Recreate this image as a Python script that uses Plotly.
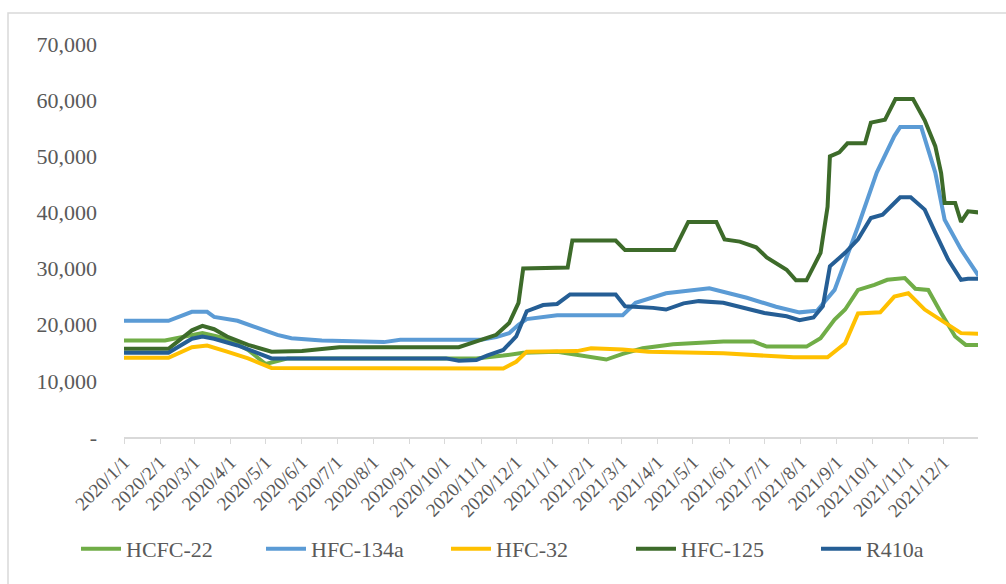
import plotly.graph_objects as go

# ---------------- data ----------------
hcfc22_dates = ["2020-01-01", "2020-02-05", "2020-03-08", "2020-03-29", "2020-04-16", "2020-05-01",
                "2020-05-20", "2020-10-28", "2020-11-20", "2020-12-07", "2021-01-05", "2021-01-22",
                "2021-02-16", "2021-03-02", "2021-03-19", "2021-04-14", "2021-05-27", "2021-06-22",
                "2021-07-03", "2021-08-06", "2021-08-18", "2021-08-30", "2021-09-08", "2021-09-19",
                "2021-10-03", "2021-10-14", "2021-10-29", "2021-11-07", "2021-11-18", "2021-11-29",
                "2021-12-11", "2021-12-20", "2021-12-31"]
hcfc22_values = [17200, 17200, 18500, 17500, 15500, 13000,
                 14000, 14000, 14500, 15000, 15200, 14600,
                 13800, 14800, 15800, 16500, 17000, 17000,
                 16100, 16100, 17600, 20900, 22700, 26200,
                 27100, 28000, 28300, 26400, 26200, 22100,
                 17900, 16400, 16400]

hfc134a_dates = ["2020-01-01", "2020-02-08", "2020-02-28", "2020-03-12", "2020-03-18", "2020-04-07",
                 "2020-05-11", "2020-05-23", "2020-06-18", "2020-07-15", "2020-08-10", "2020-08-24",
                 "2020-11-01", "2020-11-14", "2020-11-25", "2020-12-03", "2020-12-10", "2021-01-05",
                 "2021-03-02", "2021-03-13", "2021-04-08", "2021-05-15", "2021-06-16", "2021-07-11",
                 "2021-07-31", "2021-08-15", "2021-08-30", "2021-09-19", "2021-10-05", "2021-10-20",
                 "2021-10-25", "2021-11-12", "2021-11-24", "2021-12-02", "2021-12-16", "2021-12-31"]
hfc134a_values = [20700, 20700, 22300, 22300, 21400, 20700,
                  18200, 17600, 17200, 17000, 16900, 17300,
                  17300, 17800, 18500, 20000, 21000, 21700,
                  21700, 23900, 25600, 26500, 24800, 23200,
                  22200, 22500, 26200, 37500, 47100, 53600,
                  55200, 55200, 47100, 38700, 33400, 28700]

hfc32_dates = ["2020-01-01", "2020-02-08", "2020-02-28", "2020-03-12", "2020-03-29", "2020-04-16",
               "2020-05-06", "2020-11-20", "2020-12-01", "2020-12-10", "2021-01-22", "2021-02-03",
               "2021-03-02", "2021-03-24", "2021-05-27", "2021-07-01", "2021-07-26", "2021-08-24",
               "2021-09-08", "2021-09-19", "2021-10-08", "2021-10-20", "2021-11-01", "2021-11-15",
               "2021-12-02", "2021-12-16", "2021-12-31"]
hfc32_values = [14100, 14100, 16000, 16300, 15200, 14000,
                12300, 12200, 13400, 15200, 15300, 15800,
                15600, 15200, 14900, 14400, 14200, 14200,
                16700, 22000, 22200, 25000, 25600, 22700,
                20300, 18500, 18400]

hfc125_dates = ["2020-01-01", "2020-02-08", "2020-02-28", "2020-03-08", "2020-03-18", "2020-03-29",
                "2020-04-16", "2020-05-06", "2020-06-01", "2020-07-03", "2020-10-13", "2020-10-28",
                "2020-11-14", "2020-11-25", "2020-12-03", "2020-12-07", "2021-01-14", "2021-01-18",
                "2021-02-24", "2021-03-04", "2021-04-15", "2021-04-27", "2021-05-21", "2021-05-28",
                "2021-06-10", "2021-06-24", "2021-07-03", "2021-07-20", "2021-07-28", "2021-08-06",
                "2021-08-18", "2021-08-24", "2021-08-26", "2021-09-03", "2021-09-10", "2021-09-25",
                "2021-09-30", "2021-10-12", "2021-10-21", "2021-11-05", "2021-11-15", "2021-11-24",
                "2021-11-29", "2021-12-02", "2021-12-11", "2021-12-16", "2021-12-22", "2021-12-31"]
hfc125_values = [15700, 15700, 19000, 19800, 19200, 17900,
                 16400, 15200, 15300, 16000, 16000, 17000,
                 18200, 20300, 23900, 30000, 30200, 35000,
                 35000, 33300, 33300, 38300, 38300, 35200,
                 34800, 33800, 32000, 29800, 27900, 27900,
                 32800, 41000, 50000, 50700, 52300, 52300,
                 56000, 56500, 60200, 60200, 56400, 51800,
                 47000, 41700, 41700, 38300, 40200, 40000]

r410a_dates = ["2020-01-01", "2020-02-08", "2020-02-28", "2020-03-08", "2020-03-18", "2020-04-07",
               "2020-04-26", "2020-05-06", "2020-10-02", "2020-10-13", "2020-10-28", "2020-11-06",
               "2020-11-20", "2020-12-01", "2020-12-10", "2020-12-24", "2021-01-05", "2021-01-16",
               "2021-02-24", "2021-03-04", "2021-03-28", "2021-04-08", "2021-04-23", "2021-05-06",
               "2021-05-27", "2021-06-13", "2021-07-01", "2021-07-20", "2021-07-31", "2021-08-12",
               "2021-08-20", "2021-08-26", "2021-09-08", "2021-09-19", "2021-09-30", "2021-10-10",
               "2021-10-20", "2021-10-25", "2021-11-03", "2021-11-15", "2021-11-24", "2021-12-05",
               "2021-12-16", "2021-12-22", "2021-12-31"]
r410a_values = [15000, 15000, 17500, 17900, 17500, 16300,
                14800, 14000, 14000, 13600, 13700, 14500,
                15500, 17900, 22400, 23500, 23700, 25400,
                25400, 23300, 23000, 22700, 23800, 24200,
                23900, 23000, 22100, 21500, 20800, 21300,
                23300, 30400, 32800, 35200, 39000, 39600,
                41800, 42700, 42700, 40500, 36400, 31600,
                28000, 28200, 28200]

series_names = ["HCFC-22", "HFC-134a", "HFC-32", "HFC-125", "R410a"]
series_dates = [hcfc22_dates, hfc134a_dates, hfc32_dates, hfc125_dates, r410a_dates]
series_values = [hcfc22_values, hfc134a_values, hfc32_values, hfc125_values, r410a_values]

y_tick_values = [0, 10000, 20000, 30000, 40000, 50000, 60000, 70000]
y_tick_labels = ["-", "10,000", "20,000", "30,000", "40,000", "50,000", "60,000", "70,000"]

# ---------------- styles ----------------
colors = ["#70AD47", "#5B9BD5", "#FFC000", "#3D6B2A", "#255E95"]
FONT = "Liberation Serif"
GREY = "#595959"

fig = go.Figure()
for name, xs, ys, c in zip(series_names, series_dates, series_values, colors):
    fig.add_trace(go.Scatter(x=xs, y=ys, name=name, mode="lines",
                             line=dict(color=c, width=4)))

fig.update_layout(
    width=1006, height=584,
    margin=dict(l=124, r=28, t=44, b=147),
    paper_bgcolor="white", plot_bgcolor="white",
    font=dict(family=FONT, size=21, color=GREY),
    legend=dict(orientation="h", x=(76 - 124) / 854, xanchor="left", y=-(549 - 437) / 393,
                yanchor="middle",
                font=dict(family=FONT, size=22, color=GREY),
                entrywidth=130, entrywidthmode="pixels", itemwidth=40),
    shapes=[dict(type="rect", xref="paper", yref="paper",
                 x0=(8 - 124) / 854, x1=(1012 - 124) / 854,
                 y0=-(592 - 437) / 393, y1=(437 - 13) / 393,
                 line=dict(color="#D9D9D9", width=1.5), layer="below")],
)

fig.update_xaxes(
    type="date", range=["2020-01-01", "2021-12-30 12:00"],
    tick0="2020-01-01", dtick="M1", tickformat="%Y/%-m/%-d", tickangle=-45,
    showgrid=False, zeroline=False,
    showline=True, linecolor="#D9D9D9", linewidth=1.5,
    ticks="outside", ticklen=5, tickcolor="#D9D9D9",
    tickfont=dict(family=FONT, size=19, color=GREY),
)
fig.update_yaxes(
    range=[0, 70000], tickvals=y_tick_values, ticktext=y_tick_labels,
    showgrid=False, zeroline=False, showline=False,
    ticklabelstandoff=26,
    tickfont=dict(family=FONT, size=22, color=GREY),
)

fig.write_html("out.html")
